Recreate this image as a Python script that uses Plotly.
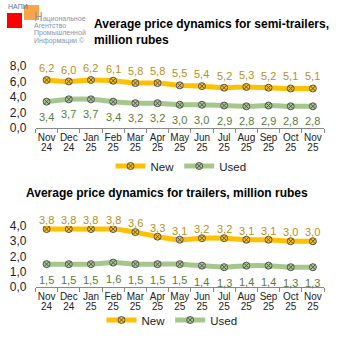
import plotly.graph_objects as go

# Periods on the x axis: month name and two-digit year
month_names = ["Nov", "Dec", "Jan", "Feb", "Mar", "Apr", "May", "Jun", "Jul", "Aug", "Sep", "Oct", "Nov"]
years = ["24", "24", "25", "25", "25", "25", "25", "25", "25", "25", "25", "25", "25"]
periods = [f"{m} {y}" for m, y in zip(month_names, years)]

# Semi-trailers, million rubles
semi_new = [6.2, 6.0, 6.2, 6.1, 5.8, 5.8, 5.5, 5.4, 5.2, 5.3, 5.2, 5.1, 5.1]
semi_used = [3.4, 3.7, 3.7, 3.4, 3.2, 3.2, 3.0, 3.0, 2.9, 2.8, 2.9, 2.8, 2.8]

# Trailers, million rubles
trail_new = [3.8, 3.8, 3.8, 3.8, 3.6, 3.3, 3.1, 3.2, 3.2, 3.1, 3.1, 3.0, 3.0]
trail_used = [1.5, 1.5, 1.5, 1.6, 1.5, 1.5, 1.5, 1.4, 1.3, 1.4, 1.4, 1.3, 1.3]

W = H = 338
NEW_C = "#FFC000"
USED_C = "#A6C78C"
NEW_LBL = "#B8901A"
USED_LBL = "#5B7B3A"
FONT = "Liberation Sans, Arial, sans-serif"


def px_x(p):
    return p / W


def px_y(p):
    return 1 - p / H


def fmt(v):
    return f"{v:.1f}".replace(".", ",")


fig = go.Figure()


def add_series(vals, name, color, xa, ya, legend):
    fig.add_trace(go.Scatter(
        x=periods, y=vals, name=name, mode="lines+markers",
        line=dict(color=color, width=5, shape="spline", smoothing=0.6),
        marker=dict(symbol="circle-x", size=7, color=color,
                    line=dict(color="#555555", width=1)),
        xaxis=xa, yaxis=ya, legend=legend, hoverinfo="skip"))


add_series(semi_new, "New", NEW_C, "x", "y", "legend")
add_series(semi_used, "Used", USED_C, "x", "y", "legend")
add_series(trail_new, "New", NEW_C, "x2", "y2", "legend2")
add_series(trail_used, "Used", USED_C, "x2", "y2", "legend2")

# Transparent carriers so the year-label axes get a subplot of their own
for xa, ya, vals in (("x3", "y", semi_new), ("x4", "y2", trail_new)):
    fig.add_trace(go.Scatter(
        x=periods, y=vals, mode="lines", line=dict(width=0), opacity=0,
        xaxis=xa, yaxis=ya, showlegend=False, hoverinfo="skip"))

annotations = []


def add_labels(vals, xref, yref, color, shift):
    for p, v in zip(periods, vals):
        annotations.append(dict(
            x=p, y=v, xref=xref, yref=yref, text=fmt(v), showarrow=False,
            yshift=shift, font=dict(family=FONT, size=11, color=color)))


add_labels(semi_new, "x", "y", NEW_LBL, 12)
add_labels(semi_used, "x", "y", USED_LBL, -15)
add_labels(trail_new, "x2", "y2", NEW_LBL, 9)
add_labels(trail_used, "x2", "y2", USED_LBL, -16)

# Titles
annotations.append(dict(
    x=px_x(92), y=px_y(32), xref="paper", yref="paper", xanchor="left", yanchor="middle",
    align="left", showarrow=False,
    text="<b>Average price dynamics for semi-trailers,<br>million rubes</b>",
    font=dict(family=FONT, size=12, color="#000000")))
annotations.append(dict(
    x=px_x(24), y=px_y(193), xref="paper", yref="paper", xanchor="left", yanchor="middle",
    showarrow=False,
    text="<b>Average price dynamics for trailers, million rubes</b>",
    font=dict(family=FONT, size=12, color="#000000")))

# Agency logo text
annotations.append(dict(
    x=px_x(6), y=px_y(7), xref="paper", yref="paper", xanchor="left", yanchor="middle",
    showarrow=False, text="НАПИ",
    font=dict(family=FONT, size=7, color="#5A6F9A")))
logo_lines = ["<span style='font-size:12px'>Н</span>ациональное", "Агентство",
              "Промышленной", "Информации ©"]
for i, line in enumerate(logo_lines):
    annotations.append(dict(
        x=px_x(32), y=px_y(17 + 8 * i), xref="paper", yref="paper",
        xanchor="left", yanchor="middle", showarrow=False, text=line,
        font=dict(family="Liberation Sans Narrow, " + FONT, size=7, color="#8A94A8")))

shapes = [
    dict(type="rect", xref="paper", yref="paper", x0=px_x(7), x1=px_x(22),
         y0=px_y(28), y1=px_y(13), fillcolor="#FF0000", line=dict(width=0), layer="below"),
    dict(type="rect", xref="paper", yref="paper", x0=px_x(24), x1=px_x(39),
         y0=px_y(20), y1=px_y(5), fillcolor="rgba(247,150,40,0.85)", line=dict(width=0),
         layer="below"),
]

x_dom = [px_x(35.5), px_x(324)]
TICKFONT = dict(family=FONT, size=10, color="#222222")
axis_x = dict(
    type="category", categoryarray=periods, domain=x_dom, range=[-0.5, 12.5],
    showgrid=False, zeroline=False, showline=True, linecolor="#888888", linewidth=1,
    ticks="outside", tickson="boundaries", ticklen=4, tickcolor="#888888", tickangle=0,
    tickvals=periods, ticktext=month_names, tickfont=TICKFONT, fixedrange=True)
# Second row of x labels (years), overlaid on the same category scale
axis_year = dict(
    type="category", categoryarray=periods, domain=x_dom, range=[-0.5, 12.5],
    showgrid=False, zeroline=False, showline=False, ticks="", tickangle=0,
    tickvals=periods, ticktext=years, tickfont=TICKFONT, ticklabelstandoff=12,
    fixedrange=True)
axis_y = dict(showgrid=False, zeroline=False, showline=False, ticks="",
              tickfont=dict(family=FONT, size=12, color="#222222"),
              ticklabelstandoff=8, fixedrange=True)

fig.update_layout(
    width=W, height=H, margin=dict(l=0, r=0, t=0, b=0, autoexpand=False),
    paper_bgcolor="white", plot_bgcolor="white",
    xaxis=dict(axis_x, anchor="y"),
    yaxis=dict(axis_y, anchor="x", domain=[px_y(128), px_y(66)], range=[0, 8],
               tickvals=[0, 2, 4, 6, 8], ticktext=[fmt(v) for v in [0, 2, 4, 6, 8]]),
    xaxis2=dict(axis_x, anchor="y2"),
    yaxis2=dict(axis_y, anchor="x2", domain=[px_y(287), px_y(226)], range=[0, 4],
                tickvals=[0, 1, 2, 3, 4], ticktext=[fmt(v) for v in [0, 1, 2, 3, 4]]),
    xaxis3=dict(axis_year, anchor="y", overlaying="x"),
    xaxis4=dict(axis_year, anchor="y2", overlaying="x2"),
    legend=dict(orientation="h", x=px_x(181), y=px_y(166), xanchor="center", yanchor="middle",
                font=dict(family=FONT, size=11.5, color="#222222"), itemwidth=30,
                bgcolor="rgba(0,0,0,0)", tracegroupgap=0),
    legend2=dict(orientation="h", x=px_x(172), y=px_y(320), xanchor="center", yanchor="middle",
                 font=dict(family=FONT, size=11.5, color="#222222"), itemwidth=30,
                 bgcolor="rgba(0,0,0,0)", tracegroupgap=0),
    annotations=annotations, shapes=shapes, showlegend=True,
)

fig.write_html("out.html")
